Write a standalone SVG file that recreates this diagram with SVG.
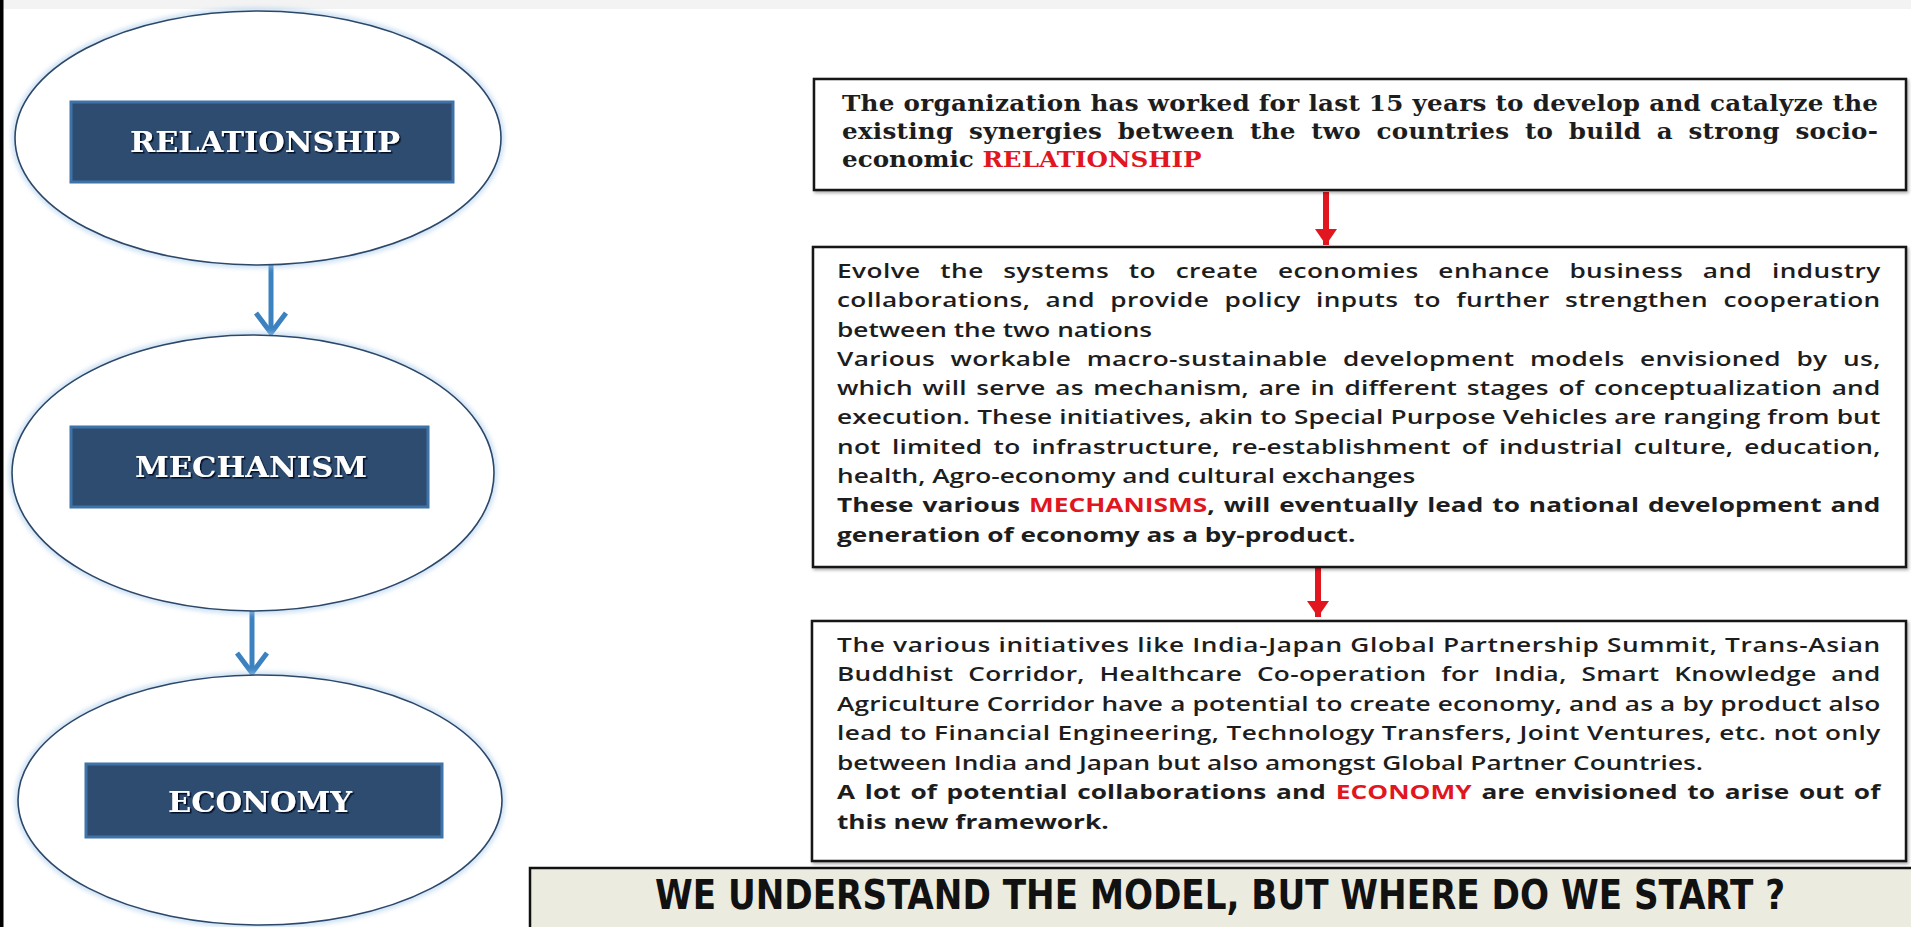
<svg xmlns="http://www.w3.org/2000/svg" width="1911" height="927" viewBox="0 0 1911 927">
<defs>
<style>
.bg{fill:#ffffff}
.ell{fill:#ffffff;stroke:#2b4769;stroke-width:1.6}
.glow{fill:none;stroke:#a8cbea;stroke-width:7;opacity:.55}
.lbl{fill:#2d4c6f;stroke:#3e73aa;stroke-width:3}
.lt{font-family:"DejaVu Serif","Liberation Serif",serif;font-weight:bold;font-size:27px;fill:#ffffff}
.box{fill:#ffffff;stroke:#151515;stroke-width:2.5}
.t1{font-family:"DejaVu Serif","Liberation Serif",serif;font-weight:bold;font-size:22px;fill:#1d1d1d}
.t2{font-family:"Open Sans","Noto Sans",sans-serif;font-weight:600;font-size:19px;fill:#1d1d1d}
.b{font-weight:700}
.red{fill:#e1161e}
.blk{stroke:#000;stroke-width:4.5;fill:none}
.rd{stroke:#e1161e;stroke-width:6;fill:none}
.bl{stroke:#3c82c1;stroke-width:5;fill:none}
.ban{fill:#ecebe0;stroke:#111;stroke-width:2.5}
.bt{font-family:"DejaVu Sans Condensed","DejaVu Sans","Liberation Sans",sans-serif;font-weight:bold;font-size:40px;fill:#111}
</style>
<filter id="blur" x="-10%" y="-10%" width="120%" height="120%"><feGaussianBlur stdDeviation="2"/></filter>
<filter id="ts" x="-10%" y="-40%" width="120%" height="180%"><feDropShadow dx="1.5" dy="1.5" stdDeviation="0.7" flood-color="#061028" flood-opacity="1"/></filter>
<filter id="sh" x="-5%" y="-10%" width="110%" height="130%"><feDropShadow dx="1.5" dy="2" stdDeviation="1.5" flood-color="#000" flood-opacity=".3"/></filter>
<marker id="mb" markerUnits="userSpaceOnUse" markerWidth="20" markerHeight="18" refX="18" refY="9" orient="auto"><path d="M0,1 L18,9 L0,17 z" fill="#000"/></marker>
<marker id="mr" markerUnits="userSpaceOnUse" markerWidth="24" markerHeight="24" refX="16" refY="12" orient="auto"><path d="M0,1 L16,12 L0,23 z" fill="#e1161e"/></marker>
<marker id="mbl" markerUnits="userSpaceOnUse" markerWidth="26" markerHeight="36" refX="22" refY="18" orient="auto" overflow="visible"><path d="M2,3 L22,18 L2,33" fill="none" stroke="#3c82c1" stroke-width="5" stroke-linejoin="miter"/></marker>
</defs>

<rect class="bg" x="0" y="0" width="1911" height="927"/>
<rect x="0" y="0" width="1911" height="9" fill="#f3f3f3"/>
<rect x="0" y="0" width="3.5" height="927" fill="#000"/>

<g id="connectors">
  <line class="blk" x1="501" y1="142" x2="813" y2="142" marker-end="url(#mb)" filter="url(#sh)"/>
  <line class="blk" x1="494" y1="482" x2="813" y2="482" marker-end="url(#mb)" filter="url(#sh)"/>
  <line class="blk" x1="501" y1="808" x2="813" y2="808" marker-end="url(#mb)" filter="url(#sh)"/>
  <line class="rd" x1="1326" y1="192" x2="1326" y2="245" marker-end="url(#mr)"/>
  <line class="rd" x1="1318" y1="568" x2="1318" y2="617" marker-end="url(#mr)"/>
  <line class="bl" x1="271" y1="265" x2="271" y2="333" marker-end="url(#mbl)"/>
  <line class="bl" x1="252" y1="611" x2="252" y2="673" marker-end="url(#mbl)"/>
</g>

<g id="node-relationship">
  <ellipse class="glow" cx="258" cy="138" rx="243" ry="127" filter="url(#blur)"/>
  <ellipse class="ell" cx="258" cy="138" rx="243" ry="127"/>
  <rect class="lbl" x="71" y="102" width="382" height="80"/>
  <text class="lt" x="265" y="152" text-anchor="middle" textLength="270" lengthAdjust="spacingAndGlyphs" filter="url(#ts)">RELATIONSHIP</text>
</g>

<g id="node-mechanism">
  <ellipse class="glow" cx="253" cy="473" rx="241" ry="138" filter="url(#blur)"/>
  <ellipse class="ell" cx="253" cy="473" rx="241" ry="138"/>
  <rect class="lbl" x="71" y="427" width="357" height="80"/>
  <text class="lt" x="251" y="477" text-anchor="middle" textLength="232" lengthAdjust="spacingAndGlyphs" filter="url(#ts)">MECHANISM</text>
</g>

<g id="node-economy">
  <ellipse class="glow" cx="260" cy="800" rx="242" ry="125" filter="url(#blur)"/>
  <ellipse class="ell" cx="260" cy="800" rx="242" ry="125"/>
  <rect class="lbl" x="86" y="764" width="356" height="73"/>
  <text class="lt" x="260" y="812" text-anchor="middle" textLength="184" lengthAdjust="spacingAndGlyphs" filter="url(#ts)">ECONOMY</text>
</g>

<g id="box-relationship">
  <rect class="box" x="814" y="79" width="1092" height="111" filter="url(#sh)"/>
  <g class="t1" transform="translate(842 0) scale(1.12 1)">
    <text x="0" y="111" textLength="925" lengthAdjust="spacing">The organization has worked for last 15 years to develop and catalyze the</text>
    <text x="0" y="139" textLength="925" lengthAdjust="spacing" word-spacing="6">existing synergies between the two countries to build a strong socio-</text>
    <text x="0" y="167">economic <tspan class="red">RELATIONSHIP</tspan></text>
  </g>
</g>

<g id="box-mechanism">
  <rect class="box" x="813" y="247" width="1093" height="320" filter="url(#sh)"/>
  <g class="t2" transform="translate(837 0) scale(1.38 1)">
    <text x="0" y="278" textLength="756" lengthAdjust="spacing" word-spacing="9">Evolve the systems to create economies enhance business and industry</text>
    <text x="0" y="307.3" textLength="756" lengthAdjust="spacing" word-spacing="6">collaborations, and provide policy inputs to further strengthen cooperation</text>
    <text x="0" y="336.6">between the two nations</text>
    <text x="0" y="365.9" textLength="756" lengthAdjust="spacing" word-spacing="6">Various workable macro-sustainable development models envisioned by us,</text>
    <text x="0" y="395.2" textLength="756" lengthAdjust="spacing" word-spacing="2">which will serve as mechanism, are in different stages of conceptualization and</text>
    <text x="0" y="424.5" textLength="756" lengthAdjust="spacing">execution. These initiatives, akin to Special Purpose Vehicles are ranging from but</text>
    <text x="0" y="453.8" textLength="756" lengthAdjust="spacing" word-spacing="3">not limited to infrastructure, re-establishment of industrial culture, education,</text>
    <text x="0" y="483.1">health, Agro-economy and cultural exchanges</text>
    <text class="b" x="0" y="512.4" textLength="756" lengthAdjust="spacing" word-spacing="1.5">These various <tspan class="red">MECHANISMS</tspan>, will eventually lead to national development and</text>
    <text class="b" x="0" y="541.7">generation of economy as a by-product.</text>
  </g>
</g>

<g id="box-economy">
  <rect class="box" x="812" y="621" width="1094" height="240" filter="url(#sh)"/>
  <g class="t2" transform="translate(837 0) scale(1.38 1)">
    <text x="0" y="652" textLength="756" lengthAdjust="spacing">The various initiatives like India-Japan Global Partnership Summit, Trans-Asian</text>
    <text x="0" y="681.5" textLength="756" lengthAdjust="spacing" word-spacing="5.5">Buddhist Corridor, Healthcare Co-operation for India, Smart Knowledge and</text>
    <text x="0" y="711" textLength="756" lengthAdjust="spacing">Agriculture Corridor have a potential to create economy, and as a by product also</text>
    <text x="0" y="740.5" textLength="756" lengthAdjust="spacing">lead to Financial Engineering, Technology Transfers, Joint Ventures, etc. not only</text>
    <text x="0" y="770">between India and Japan but also amongst Global Partner Countries.</text>
    <text class="b" x="0" y="799.5" textLength="756" lengthAdjust="spacing" word-spacing="2">A lot of potential collaborations and <tspan class="red">ECONOMY</tspan> are envisioned to arise out of</text>
    <text class="b" x="0" y="829">this new framework.</text>
  </g>
</g>

<g id="banner">
  <rect class="ban" x="530" y="868" width="1385" height="64"/>
  <text class="bt" x="1220" y="909" text-anchor="middle" textLength="1130" lengthAdjust="spacingAndGlyphs">WE UNDERSTAND THE MODEL, BUT WHERE DO WE START ?</text>
</g>
</svg>
